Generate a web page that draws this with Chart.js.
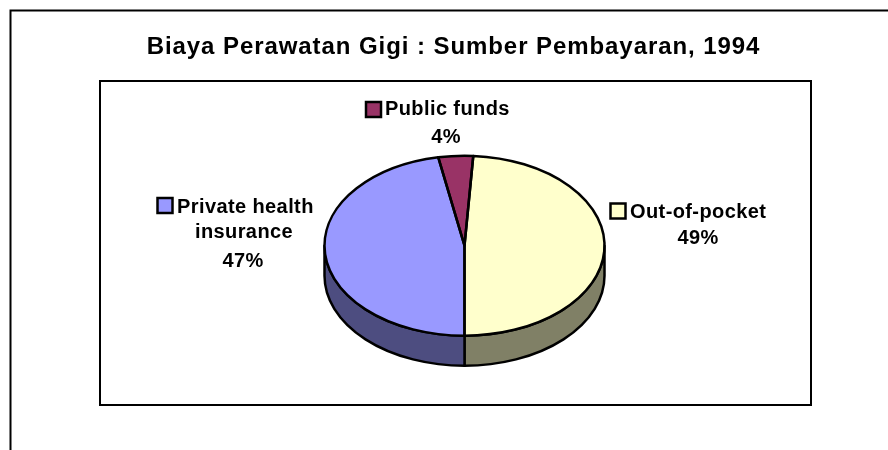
<!DOCTYPE html>
<html><head><meta charset="utf-8">
<style>html,body{margin:0;padding:0;background:#fff}#w{width:888px;height:450px}canvas{display:block}</style>
<script src="https://cdn.jsdelivr.net/npm/chart.js@4"></script>
</head><body><div id="w"><canvas id="c" width="888" height="450"></canvas></div>
<script>
const chartTitle = 'Biaya Perawatan Gigi : Sumber Pembayaran, 1994';
const categories = ['Out-of-pocket', 'Private health insurance', 'Public funds'];
const shares = [49, 47, 4];
const percentLabels = ['49%', '47%', '4%'];
const topColors = ['#FFFFCC', '#9999FF', '#993366'];
const sideColors = ['#808066', '#4D4D80', '#4D1A33'];

const FONT = '"Liberation Sans", Arial, sans-serif';
const SQUASH = 90 / 140, DEPTH = 30, EDGE = 2.5;
const labelLayout = [
  {key:[610.5,203.5], lines:[['Out-of-pocket',630,218,'left'],[percentLabels[0],698,244,'center']]},
  {key:[157.5,198], lines:[['Private health',177,213,'left'],['insurance',244,238,'center'],[percentLabels[1],243,267,'center']]},
  {key:[366,102], lines:[['Public funds',385,115,'left'],[percentLabels[2],446,143,'center']]}
];

function frontSpans(s, e) {
  const out = [];
  for (let k = -1; k <= 1; k++) {
    const lo = Math.max(s, 2 * Math.PI * k), hi = Math.min(e, 2 * Math.PI * k + Math.PI);
    if (hi > lo) out.push([lo, hi]);
  }
  return out;
}
const pie3d = {
  id: 'pie3d',
  afterLayout(chart) {
    const t = chart.titleBlock; t.left -= 11; t.right -= 11;
  },
  beforeDraw(chart) {
    const ctx = chart.ctx;
    ctx.save();
    ctx.fillStyle = '#fff'; ctx.fillRect(0, 0, 888, 450);
    ctx.strokeStyle = '#000'; ctx.lineWidth = 2;
    ctx.beginPath(); ctx.moveTo(10.5, 450); ctx.lineTo(10.5, 10.5); ctx.lineTo(888, 10.5); ctx.stroke();
    ctx.strokeRect(100, 81, 711, 324);
    ctx.restore();
    ctx.letterSpacing = '0.93px';
  },
  beforeDatasetDraw(chart) {
    const ctx = chart.ctx, arcs = chart.getDatasetMeta(0).data;
    ctx.save();
    ctx.strokeStyle = '#000'; ctx.lineWidth = EDGE; ctx.lineJoin = 'round';
    arcs.forEach((a, i) => {
      frontSpans(a.startAngle, a.endAngle).forEach(([lo, hi]) => {
        const rx = a.outerRadius, ry = rx * SQUASH;
        ctx.beginPath();
        ctx.ellipse(a.x, a.y, rx, ry, 0, lo, hi);
        ctx.ellipse(a.x, a.y + DEPTH, rx, ry, 0, hi, lo, true);
        ctx.closePath();
        ctx.fillStyle = sideColors[i];
        ctx.fill(); ctx.stroke();
      });
    });
    ctx.restore();
    const a = arcs[0];
    ctx.save();
    ctx.translate(0, a.y); ctx.scale(1, SQUASH); ctx.translate(0, -a.y);
  },
  afterDatasetDraw(chart) {
    const ctx = chart.ctx, arcs = chart.getDatasetMeta(0).data;
    ctx.restore();
    ctx.save();
    ctx.strokeStyle = '#000'; ctx.lineWidth = EDGE; ctx.lineJoin = 'round';
    arcs.forEach(a => {
      ctx.beginPath();
      ctx.moveTo(a.x, a.y);
      ctx.ellipse(a.x, a.y, a.outerRadius, a.outerRadius * SQUASH, 0, a.startAngle, a.endAngle);
      ctx.closePath();
      ctx.stroke();
    });
    ctx.restore();
  },
  afterDraw(chart) {
    const ctx = chart.ctx;
    ctx.save();
    ctx.letterSpacing = '0.4px';
    ctx.font = 'bold 20px ' + FONT; ctx.textBaseline = 'alphabetic';
    labelLayout.forEach((l, i) => {
      ctx.fillStyle = topColors[i]; ctx.strokeStyle = '#000'; ctx.lineWidth = 2.5;
      ctx.fillRect(l.key[0], l.key[1], 15, 15); ctx.strokeRect(l.key[0], l.key[1], 15, 15);
      ctx.fillStyle = '#000';
      l.lines.forEach(([t, x, y, al]) => { ctx.textAlign = al; ctx.fillText(t, x, y); });
    });
    ctx.restore();
  }
};

new Chart(document.getElementById('c'), {
  type: 'pie',
  data: { labels: categories, datasets: [{ data: shares, backgroundColor: topColors, borderWidth: 0, clip: false, radius: 140 }] },
  plugins: [pie3d],
  options: {
    responsive: false, animation: false,
    rotation: 3.6,
    layout: { padding: { left: 41, right: 0, top: 34, bottom: 19 } },
    plugins: {
      legend: { display: false }, tooltip: { enabled: false },
      title: { display: true, text: chartTitle, color: '#000', padding: 0, font: { family: FONT, size: 24, weight: 'bold', lineHeight: 1.1 } }
    }
  }
});
</script>
</body></html>
